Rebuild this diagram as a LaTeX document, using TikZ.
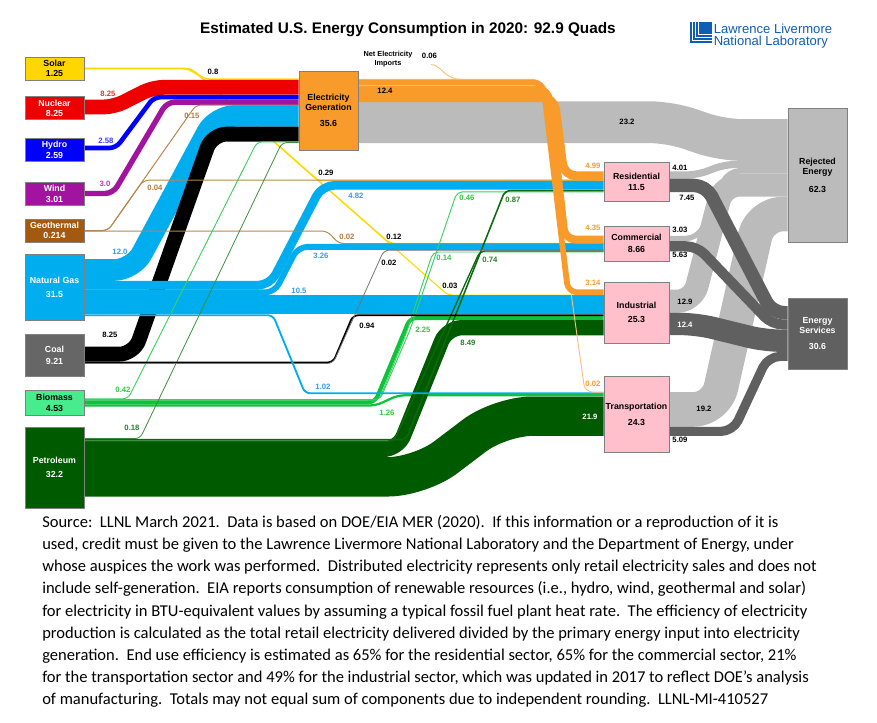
\documentclass[tikz,border=0pt]{standalone}
\usepackage{fontspec}
\setmainfont{Liberation Sans}
\newfontfamily\srcfont{Carlito}
\usetikzlibrary{calc}
\pgfdeclarelayer{bg}
\pgfsetlayers{bg,main}
\definecolor{cSolar}{HTML}{FFD700}
\definecolor{cSolarLn}{HTML}{FFD800}
\definecolor{cNuc}{HTML}{EE0000}
\definecolor{cHydro}{HTML}{0000FF}
\definecolor{cWind}{HTML}{A2139F}
\definecolor{cGeoBox}{HTML}{A35A0F}
\definecolor{cGeo}{HTML}{B8864E}
\definecolor{cGas}{HTML}{00AEEF}
\definecolor{cCoalBox}{HTML}{666666}
\definecolor{cBioBox}{HTML}{48EC8C}
\definecolor{cBio}{HTML}{10C23A}
\definecolor{cBioLt}{HTML}{3AD060}
\definecolor{cPetro}{HTML}{005A00}
\definecolor{cPetroLn}{HTML}{0B6A0B}
\definecolor{cPetroLt}{HTML}{3D8F3D}
\definecolor{cElec}{HTML}{F99B2B}
\definecolor{cElecLt}{HTML}{FBBF7A}
\definecolor{cSector}{HTML}{FFBFCB}
\definecolor{cRej}{HTML}{BBBBBB}
\definecolor{cServ}{HTML}{606060}
\definecolor{lNuc}{HTML}{EE3030}
\definecolor{lHydro}{HTML}{3B3BFF}
\definecolor{lWind}{HTML}{B83AB8}
\definecolor{lGeo}{HTML}{B0793A}
\definecolor{lGas}{HTML}{3399EE}
\definecolor{lBio}{HTML}{30C840}
\definecolor{lPetro}{HTML}{2A7F2A}
\definecolor{cLogo}{HTML}{0F5DB5}
\newcommand\bxf{\fontsize{6.6}{7.6}\selectfont\bfseries}
\newcommand\lbf{\fontsize{5.8}{6.8}\selectfont\bfseries}
\tikzset{
  q/.style={line width=#1*1.35pt},
  fl/.style={line cap=butt, line join=round},
  box/.style={draw=black!50, line width=0.5pt, inner sep=0pt, align=center, font=\bxf},
  sz/.style 2 args={minimum width=#1*0.75pt, minimum height=#2*0.75pt},
  lab/.style={font=\lbf, inner sep=0pt},
  srcline/.style={anchor=base west, inner sep=0pt, font=\srcfont\fontsize{12.4}{14}\selectfont},
}
\begin{document}
\begin{tikzpicture}[x=0.75pt,y=-0.75pt]
\useasboundingbox (0,0) rectangle (877,722);
% ---------- boxes ----------
\node[box, sz={59}{23}, fill=cSolar] (solar) at (54.5,68.5) {Solar\\1.25};
\node[box, sz={59}{23}, fill=cNuc, text=white] (nuclear) at (54.5,108) {Nuclear\\8.25};
\node[box, sz={59}{23}, fill=cHydro, text=white] (hydro) at (54.5,149.5) {Hydro\\[0.6pt]2.59};
\node[box, sz={59}{23}, fill=cWind, text=white] (wind) at (54.5,193.5) {Wind\\[0.6pt]3.01};
\node[box, sz={59}{23}, fill=cGeoBox, text=white] (geo) at (54.5,230.5) {Geothermal\\0.214};
\node[box, sz={59}{66}, fill=cGas, text=white] (gas) at (54.5,287) {Natural Gas\\[3pt]31.5};
\node[box, sz={59}{42}, fill=cCoalBox, text=white] (coal) at (54.5,355) {Coal\\[1.5pt]9.21};
\node[box, sz={59}{25}, fill=cBioBox] (biomass) at (54.5,402.5) {Biomass\\[0.6pt]4.53};
\node[box, sz={59}{81}, fill=cPetro, text=white] (petro) at (54.5,467.5) {Petroleum\\[3pt]32.2};
\node[box, sz={59}{79}, fill=cElec] (elec) at (328.5,110.5) {Electricity\\Generation\\[4pt]35.6};
\node[box, sz={65}{39}, fill=cSector] (res) at (636.5,181.5) {Residential\\[0.8pt]11.5};
\node[box, sz={65}{35}, fill=cSector] (comm) at (636.5,243.5) {Commercial\\[1pt]8.66};
\node[box, sz={65}{61}, fill=cSector] (ind) at (636.5,312.5) {Industrial\\[3pt]25.3};
\node[box, sz={65}{76}, fill=cSector] (trans) at (636.5,414) {Transportation\\[4.5pt]24.3};
\node[box, sz={59}{134}, fill=cRej] (rej) at (817.5,175) {Rejected\\Energy\\[6pt]62.3};
\node[box, sz={59}{71}, fill=cServ, text=white] (serv) at (817.5,333.5) {Energy\\Services\\[4pt]30.6};
\coordinate (imp) at (431,64.5);
% ---------- flows ----------
\begin{pgfonlayer}{bg}
% rejected energy
\draw[fl, cRej, q=23.2, rounded corners=15pt] (elec.east |- 0,122.2) -- (670,122.2) -- (722,140) -- (rej.west |- 0,140);
\draw[fl, cRej, q=4.01, rounded corners=8pt] (res.east |- 0,175) -- (697,175) -- (725,164.4) -- (rej.west |- 0,164.4);
\draw[fl, cRej, q=3.03, rounded corners=9pt] (comm.east |- 0,238.5) -- (698,238.5) -- (728,170.7) -- (rej.west |- 0,170.7);
\draw[fl, cRej, q=12.9, rounded corners=12pt] (ind.east |- 0,301.3) -- (693,301.3) -- (723,185) -- (rej.west |- 0,185);
\draw[fl, cRej, q=19.2, rounded corners=17pt] (trans.east |- 0,409.5) -- (716,409.5) -- (760,214) -- (rej.west |- 0,214);
% energy services
\draw[fl, cServ, q=7.45, rounded corners=9pt] (res.east |- 0,185.4) -- (706,185.4) -- (772,312.7) -- (serv.west |- 0,312.7);
\draw[fl, cServ, q=5.63, rounded corners=8pt] (comm.east |- 0,246.3) -- (697,246.3) -- (772,324.5) -- (serv.west |- 0,324.5);
\draw[fl, cServ, q=12.4, rounded corners=12pt] (ind.east |- 0,324) -- (697,324) -- (765,340.7) -- (serv.west |- 0,340.7);
\draw[fl, cServ, q=5.09, rounded corners=9pt] (trans.east |- 0,431.4) -- (733,431.4) -- (768,356.4) -- (serv.west |- 0,356.4);
% solar
\draw[fl, cSolarLn, line width=0.8pt, rounded corners=4pt] (solar.east |- 0,68.5) -- (191,68.5) -- (318,180.8) -- (res.west |- 0,180.8);
\draw[fl, cSolarLn, line width=0.8pt, rounded corners=4pt] (solar.east |- 0,68.5) -- (191,68.5) -- (390,243.4) -- (comm.west |- 0,243.4);
\draw[fl, cSolarLn, line width=0.8pt, rounded corners=4pt] (solar.east |- 0,68.5) -- (191,68.5) -- (448,295.2) -- (ind.west |- 0,295.2);
\draw[fl, cSolarLn, line width=1.08pt, rounded corners=4pt] (solar.east |- 0,68.5) -- (187,68.5) -- (206,79.2) -- (elec.west |- 0,79.2);
% into electricity
\draw[fl, cNuc, q=8.25, rounded corners=8pt] (nuclear.east |- 0,107) -- (114,107) -- (153,87.3) -- (elec.west |- 0,87.3);
\draw[fl, cHydro, q=2.58, rounded corners=5pt] (hydro.east |- 0,148) -- (116,148) -- (154,97.1) -- (elec.west |- 0,97.1);
\draw[fl, cWind, q=3.0, rounded corners=6pt] (wind.east |- 0,193.5) -- (113,193.5) -- (167,102.1) -- (elec.west |- 0,102.1);
\draw[fl, cGas, q=12.0, rounded corners=14pt] (gas.east |- 0,270) -- (133,270) -- (216,115.9) -- (elec.west |- 0,115.9);
\draw[fl, black, q=8.25, rounded corners=11pt] (coal.east |- 0,354.1) -- (134,354.1) -- (212,134.1) -- (elec.west |- 0,134.1);
% natural gas to end uses
\draw[fl, cGas, q=4.82, rounded corners=9pt] (gas.east |- 0,285.2) -- (270,285.2) -- (322,185.4) -- (res.west |- 0,185.4);
\draw[fl, cGas, q=3.26, rounded corners=7pt] (gas.east |- 0,292.4) -- (274.5,292.4) -- (298,246.9) -- (comm.west |- 0,246.9);
\draw[fl, cGas, q=10.5] (gas.east |- 0,304.9) -- (ind.west |- 0,304.9);
% biomass and petroleum bands
\draw[fl, cBio, q=2.25, rounded corners=5pt] (biomass.east |- 0,402.3) -- (375,402.3) -- (410,318) -- (ind.west |- 0,318);
\draw[fl, cBio, q=1.26, rounded corners=5pt] (biomass.east |- 0,405.5) -- (376,405.5) -- (398,395.3) -- (trans.west |- 0,395.3);
\draw[fl, cPetro, q=8.49, rounded corners=11pt] (petro.east |- 0,449.4) -- (398,449.4) -- (447,327.7) -- (ind.west |- 0,327.7);
\draw[fl, cPetro, q=21.9, rounded corners=24pt] (petro.east |- 0,476.8) -- (420,476.8) -- (500,416.2) -- (trans.west |- 0,416.2);
% thin lines
\draw[fl, cGeo, line width=0.75pt, rounded corners=4pt] (geo.east |- 0,230.5) -- (108,230.5) -- (196,105) -- (elec.west |- 0,105);
\draw[fl, cGeo, line width=0.75pt, rounded corners=4pt] (geo.east |- 0,230.5) -- (108,230.5) -- (143.4,180.2) -- (res.west |- 0,180.2);
\draw[fl, cGeo, line width=0.75pt, rounded corners=4pt] (geo.east |- 0,231) -- (327,231) -- (339,243.6) -- (comm.west |- 0,243.6);
\draw[fl, cBioLt, line width=0.7pt, rounded corners=4pt] (biomass.east |- 0,398.8) -- (128,398.8) -- (257,141.9) -- (elec.west |- 0,141.9);
\draw[fl, cBioLt, line width=0.7pt, rounded corners=4pt] (biomass.east |- 0,399.6) -- (380,399.6) -- (410,330) -- (457,191.8) -- (res.west |- 0,191.8);
\draw[fl, cBioLt, line width=0.7pt, rounded corners=4pt] (biomass.east |- 0,400.1) -- (379,400.1) -- (406,334) -- (433,252) -- (comm.west |- 0,252);
\draw[fl, cPetroLt, line width=0.6pt, rounded corners=4pt] (petro.east |- 0,438.6) -- (140,438.6) -- (282,142.5) -- (elec.west |- 0,142.5);
\draw[fl, cPetroLn, q=0.87, rounded corners=4pt] (petro.east |- 0,439.6) -- (406,439.6) -- (505,190.6) -- (res.west |- 0,190.6);
\draw[fl, cPetroLn, q=0.74, rounded corners=4pt] (petro.east |- 0,441.1) -- (394,441.1) -- (480,251) -- (comm.west |- 0,251);
\draw[fl, black, q=0.94, rounded corners=4pt] (coal.east |- 0,362.4) -- (333,362.4) -- (353,315.2) -- (ind.west |- 0,315.2);
\draw[fl, black!55, line width=0.6pt, rounded corners=4pt] (coal.east |- 0,363.4) -- (333,363.4) -- (384,250.1) -- (comm.west |- 0,250.1);
\draw[fl, cGas, q=1.02, rounded corners=4pt] (gas.east |- 0,315.2) -- (273,315.2) -- (305,393.3) -- (trans.west |- 0,393.3);
% electricity out
\draw[fl, cElecLt, line width=0.7pt, rounded corners=6pt] (elec.east |- 0,79.4) -- (541,79.4) -- (585,392.2) -- (trans.west |- 0,392.2);
\draw[fl, cElecLt, line width=0.7pt] (imp) .. controls (441,64.5) and (444,79.5) .. (462,79.5);
\draw[fl, cElec, q=3.14, rounded corners=7pt] (elec.east |- 0,82.4) -- (543,82.4) -- (568,292.3) -- (ind.west |- 0,292.3);
\draw[fl, cElec, q=4.35, rounded corners=8pt] (elec.east |- 0,89.2) -- (548,89.2) -- (565,239.6) -- (comm.west |- 0,239.6);
\draw[fl, cElec, q=4.99, rounded corners=9pt] (elec.east |- 0,97.6) -- (554,97.6) -- (564,175.8) -- (res.west |- 0,175.8);
\end{pgfonlayer}
% ---------- labels ----------
\node[lab] (l08) at (213,72) {0.8};
\node[lab, text=lNuc] (l825n) at (108,94) {8.25};
\node[lab, text=lHydro] (l258) at (106,141) {2.58};
\node[lab, text=lWind] (l30) at (105,184) {3.0};
\node[lab, text=lGeo] (l015) at (192,116) {0.15};
\node[lab, text=lGeo] (l004) at (155,188) {0.04};
\node[lab, text=lGeo] (l002g) at (347,237) {0.02};
\node[lab, text=lGas] (l120) at (120,252) {12.0};
\node[lab, text=lGas] (l482) at (356,196) {4.82};
\node[lab, text=lGas] (l326) at (321,256) {3.26};
\node[lab, text=lGas] (l105) at (299,291) {10.5};
\node[lab, text=lGas] (l102) at (323,387) {1.02};
\node[lab] (l029) at (326,173) {0.29};
\node[lab] (l012) at (394,237) {0.12};
\node[lab] (l002c) at (389,263) {0.02};
\node[lab] (l003) at (450,286) {0.03};
\node[lab] (l094) at (367,326) {0.94};
\node[lab] (l825c) at (110,335) {8.25};
\node[lab, text=lBio] (l042) at (123,390) {0.42};
\node[lab, text=lBio] (l126) at (387,413) {1.26};
\node[lab, text=lBio] (l225) at (423,330) {2.25};
\node[lab, text=lBio] (l046) at (467,198) {0.46};
\node[lab, text=lBio] (l014) at (444,258) {0.14};
\node[lab, text=lPetro] (l018) at (132,428) {0.18};
\node[lab, text=lPetro] (l087) at (513,200) {0.87};
\node[lab, text=lPetro] (l074) at (490,260) {0.74};
\node[lab, text=lPetro] (l849) at (468,343) {8.49};
\node[lab, text=white] (l219) at (590,417) {21.9};
\node[lab] (l124e) at (385,91) {12.4};
\node[lab, text=cElec] (l499) at (593,166) {4.99};
\node[lab, text=cElec] (l435) at (593,228) {4.35};
\node[lab, text=cElec] (l314) at (593,283) {3.14};
\node[lab, text=cElec] (l002t) at (593,384) {0.02};
\node[lab] (l232) at (627,122) {23.2};
\node[lab] (l401) at (680,168) {4.01};
\node[lab] (l745) at (687,198) {7.45};
\node[lab] (l303) at (680,230) {3.03};
\node[lab] (l563) at (680,255) {5.63};
\node[lab] (l129) at (685,302) {12.9};
\node[lab, text=white] (l124s) at (685,325) {12.4};
\node[lab] (l192) at (704,409) {19.2};
\node[lab] (l509) at (680,440) {5.09};
\node[lab] (l006) at (429.5,55.5) {0.06};
\node[lab, align=center, font=\fontsize{5.5}{6.75}\selectfont\bfseries] (imptxt) at (388,59.5) {Net Electricity\\Imports};
% ---------- title and logo ----------
\node[inner sep=0pt, font=\fontsize{11.5}{13}\selectfont\bfseries] (title) at (408,30) {Estimated U.S. Energy Consumption in 2020: 92.9 Quads};
\fill[cLogo] (690,22) rectangle (712,43);
\draw[white, line width=0.8pt] (692.8,22) -- (692.8,40.4) -- (712,40.4);
\draw[white, line width=0.8pt] (695.6,22) -- (695.6,37.6) -- (712,37.6);
\draw[white, line width=0.8pt] (698.4,22) -- (698.4,34.8) -- (712,34.8);
\node[anchor=north west, align=left, inner sep=0pt, text=cLogo, font=\fontsize{9.8}{9.2}\selectfont] (llnl) at (713.5,23.3) {Lawrence Livermore\\National Laboratory};
% ---------- source text ----------
\node[srcline] (s1) at (42,527.5) {Source:\ \ LLNL March 2021.\ \ Data is based on DOE/EIA MER (2020).\ \ If this information or a reproduction of it is};
\node[srcline] (s2) at (42,549.6) {used, credit must be given to the Lawrence Livermore National Laboratory and the Department of Energy, under};
\node[srcline] (s3) at (42,571.8) {whose auspices the work was performed.\ \ Distributed electricity represents only retail electricity sales and does not};
\node[srcline] (s4) at (42,593.9) {include self-generation.\ \ EIA reports consumption of renewable resources (i.e., hydro, wind, geothermal and solar)};
\node[srcline] (s5) at (42,616.1) {for electricity in BTU-equivalent values by assuming a typical fossil fuel plant heat rate.\ \ The efficiency of electricity};
\node[srcline] (s6) at (42,638.2) {production is calculated as the total retail electricity delivered divided by the primary energy input into electricity};
\node[srcline] (s7) at (42,660.4) {generation.\ \ End use efficiency is estimated as 65\% for the residential sector, 65\% for the commercial sector, 21\%};
\node[srcline] (s8) at (42,682.5) {for the transportation sector and 49\% for the industrial sector, which was updated in 2017 to reflect DOE’s analysis};
\node[srcline] (s9) at (42,704.7) {of manufacturing.\ \ Totals may not equal sum of components due to independent rounding.\ \ LLNL-MI-410527};
\end{tikzpicture}
\end{document}
